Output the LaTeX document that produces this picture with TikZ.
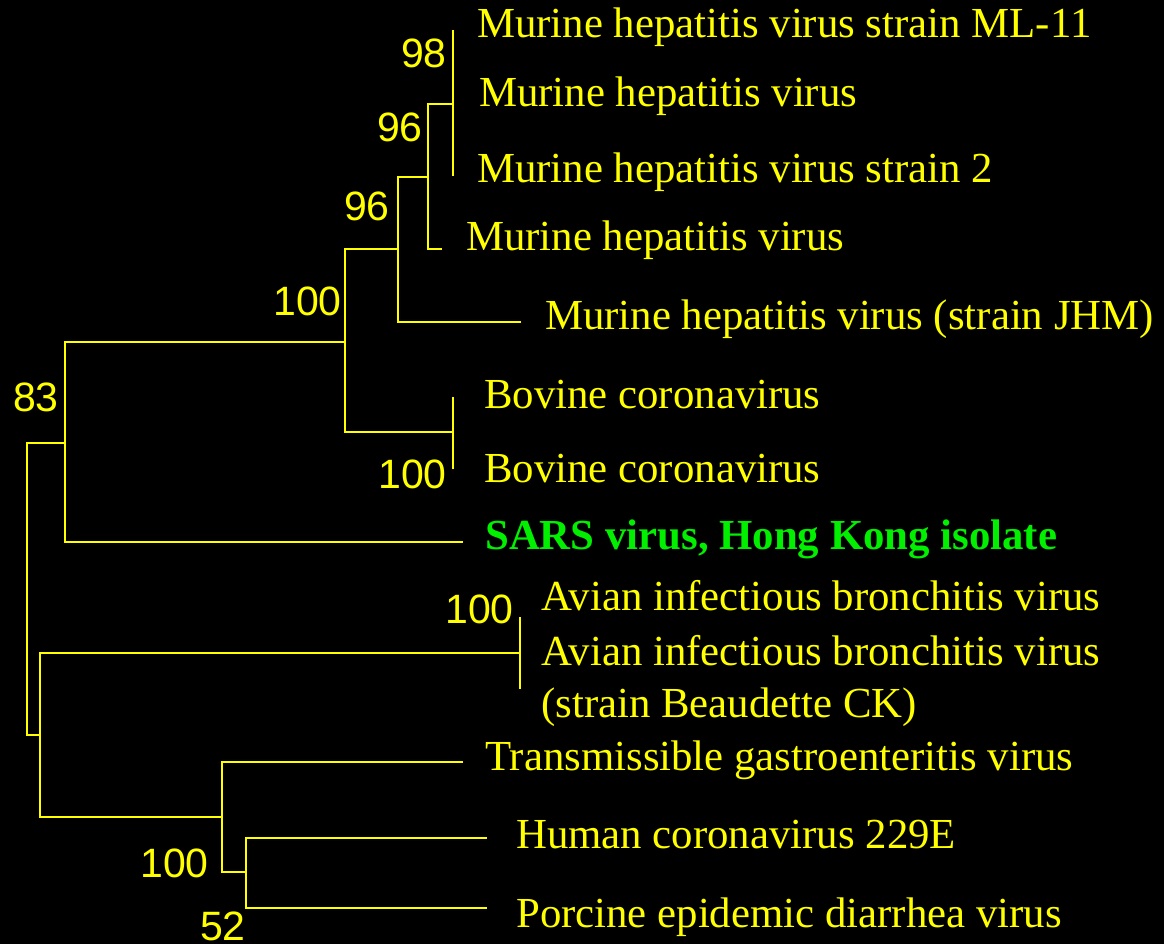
\documentclass[tikz,border=0pt]{standalone}
\usepackage{fontspec}
\setmainfont{Liberation Serif}
\newfontfamily\numfont{Liberation Sans}
\definecolor{treeyellow}{RGB}{255,255,0}
\definecolor{sarsgreen}{RGB}{0,240,0}
\begin{document}
\begin{tikzpicture}[x=1pt,y=-1pt,
  branch/.style={draw=treeyellow,line width=2.8pt,line cap=butt},
  taxon/.style={anchor=base west,inner sep=0pt,text=treeyellow,font=\fontsize{42.8}{48}\selectfont},
  sars/.style={anchor=base west,inner sep=0pt,text=sarsgreen,font=\fontsize{42.8}{48}\selectfont\bfseries},
  boot/.style={anchor=base east,inner sep=0pt,text=treeyellow,font=\numfont\fontsize{41}{46}\selectfont}]
\fill[black] (0,0) rectangle (1164,944);
\useasboundingbox (0,0) rectangle (1164,944);
% internal nodes
\coordinate (root) at (27,588);
\coordinate (n83) at (65,443);
\coordinate (n100a) at (345,342);
\coordinate (n96b) at (398,249);
\coordinate (n96a) at (428,177);
\coordinate (n98) at (453,104);
\coordinate (nbov) at (453,432);
\coordinate (nlow) at (40,735);
\coordinate (navi) at (520,653);
\coordinate (n100c) at (222,817);
\coordinate (n52) at (246,872);
% tips
\coordinate (t1) at (453,30);
\coordinate (t3) at (453,176);
\coordinate (t4) at (442,249);
\coordinate (t5) at (521,322);
\coordinate (t6) at (453,397);
\coordinate (t7) at (453,469);
\coordinate (t8) at (463,542);
\coordinate (t9) at (520,617);
\coordinate (t10) at (520,689);
\coordinate (t11) at (463,762);
\coordinate (t12) at (487,838);
\coordinate (t13) at (487,908);
% branches
\draw[branch] (root) |- (n83);
\draw[branch] (root) |- (nlow);
\draw[branch] (n83) |- (n100a);
\draw[branch] (n83) |- (t8);
\draw[branch] (n100a) |- (n96b);
\draw[branch] (n100a) |- (nbov);
\draw[branch] (n96b) |- (n96a);
\draw[branch] (n96b) |- (t5);
\draw[branch] (n96a) |- (n98);
\draw[branch] (n96a) |- (t4);
\draw[branch] (n98) |- (t1);
\draw[branch] (n98) |- (t3);
\draw[branch] (nbov) |- (t6);
\draw[branch] (nbov) |- (t7);
\draw[branch] (nlow) |- (navi);
\draw[branch] (nlow) |- (n100c);
\draw[branch] (navi) |- (t9);
\draw[branch] (navi) |- (t10);
\draw[branch] (n100c) |- (t11);
\draw[branch] (n100c) |- (n52);
\draw[branch] (n52) |- (t12);
\draw[branch] (n52) |- (t13);
% taxa
\node[taxon] (L1) at (477,38) {Murine hepatitis virus strain ML-11};
\node[taxon] (L2) at (479,107) {Murine hepatitis virus};
\node[taxon] (L3) at (477,183) {Murine hepatitis virus strain 2};
\node[taxon] (L4) at (466,250) {Murine hepatitis virus};
\node[taxon] (L5) at (545,329) {Murine hepatitis virus (strain JHM)};
\node[taxon] (L6) at (484,408) {Bovine coronavirus};
\node[taxon] (L7) at (484,482) {Bovine coronavirus};
\node[sars] (L8) at (485,549) {SARS virus, Hong Kong isolate};
\node[taxon] (L9) at (541,610) {Avian infectious bronchitis virus};
\node[taxon] (L10) at (541,665) {Avian infectious bronchitis virus};
\node[taxon] (L10b) at (541,717) {(strain Beaudette CK)};
\node[taxon] (L11) at (485,770) {Transmissible gastroenteritis virus};
\node[taxon] (L12) at (516,848) {Human coronavirus 229E};
\node[taxon] (L13) at (516,927) {Porcine epidemic diarrhea virus};
% bootstrap values
\node[boot] (b98) at (447,68) {98};
\node[boot] (b96a) at (423,142) {96};
\node[boot] (b96b) at (390,220) {96};
\node[boot] (b100a) at (342,315) {100};
\node[boot] (b83) at (59,411) {83};
\node[boot] (b100b) at (447,488) {100};
\node[boot] (b100avi) at (514,623) {100};
\node[boot] (b100c) at (209,877) {100};
\node[boot] (b52) at (246,940) {52};
\end{tikzpicture}
\end{document}
